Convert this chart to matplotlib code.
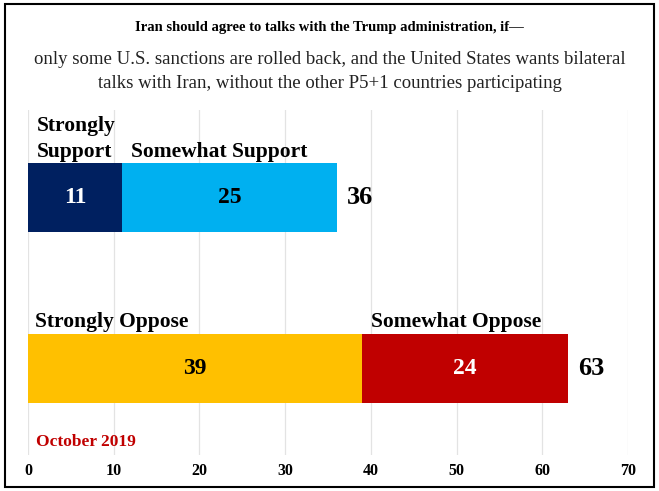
import numpy as np
import matplotlib.pyplot as plt
from matplotlib.patches import Rectangle

plt.rcParams['font.family'] = ['Liberation Serif', 'DejaVu Serif']

# data
rows = ['Oppose', 'Support']
strong_vals = [39, 11]
somewhat_vals = [24, 25]
strong_labels = ['Strongly Oppose', 'Strongly\nSupport']
somewhat_labels = ['Somewhat Oppose', 'Somewhat Support']
strong_colors = ['#FFC000', '#002060']
somewhat_colors = ['#C00000', '#00B0F0']
strong_txt = ['black', 'white']
somewhat_txt = ['white', 'black']
xticks = [0, 10, 20, 30, 40, 50, 60, 70]

W, H = 659, 491
fig = plt.figure(figsize=(W/100, H/100), dpi=100)

# frame round the whole picture
fig.patches.append(Rectangle((5/W, 4/H), 649/W, 483/H, transform=fig.transFigure,
                             fill=False, edgecolor='black', linewidth=1.5))

fig.text(0.5, 1-27/H, 'Iran should agree to talks with the Trump administration, if\u2014',
         ha='center', va='center', fontsize=10.5, fontweight='bold')
fig.text(0.5, 1-60/H, 'only some U.S. sanctions are rolled back, and the United States wants bilateral',
         ha='center', va='center', fontsize=13.5, color='#222222')
fig.text(0.5, 1-84/H, 'talks with Iran, without the other P5+1 countries participating',
         ha='center', va='center', fontsize=13.5, color='#222222')

ax = fig.add_axes([28/W, 1-455/H, 600/W, 345/H])
y = np.arange(len(rows))
h = 0.40

ax.barh(y, strong_vals, height=h, color=strong_colors)
ax.barh(y, somewhat_vals, left=strong_vals, height=h, color=somewhat_colors)

for i in range(len(rows)):
    s, m = strong_vals[i], somewhat_vals[i]
    ax.text(s/2, y[i], str(s), ha='center', va='center', fontsize=17,
            fontweight='bold', color=strong_txt[i])
    ax.text(s + m/2, y[i], str(m), ha='center', va='center', fontsize=17,
            fontweight='bold', color=somewhat_txt[i])
    ax.text(s + m + 1.2, y[i], str(s + m), ha='left', va='center', fontsize=19,
            fontweight='bold')

# category labels above the bars
lab_off = 0.24
first, second = strong_labels[1].split('\n')
ax.text(1.05, 1 + lab_off + 26/171, first, ha='left', va='baseline',
        fontsize=15.5, fontweight='bold')
ax.text(1.05, 1 + lab_off, second, ha='left', va='baseline',
        fontsize=15.5, fontweight='bold')
ax.text(12.0, 1 + lab_off, somewhat_labels[1], ha='left', va='baseline',
        fontsize=15.5, fontweight='bold')
ax.text(0.8, 0 + lab_off, strong_labels[0], ha='left', va='baseline',
        fontsize=15.5, fontweight='bold')
ax.text(40.0, 0 + lab_off, somewhat_labels[0], ha='left', va='baseline',
        fontsize=15.5, fontweight='bold')

ax.text(0.9, -0.43, 'October 2019', ha='left', va='center', fontsize=12.5,
        fontweight='bold', color='#C00000')

ax.set_xlim(0, 70)
ax.set_ylim(-0.506, 1.512)
ax.set_xticks(xticks)
ax.set_xticklabels([str(t) for t in xticks], fontsize=11.5, fontweight='bold')
ax.set_yticks([])
ax.tick_params(axis='x', length=0, pad=6)
ax.grid(axis='x', color='#E3E3E3', linewidth=0.9)
ax.set_axisbelow(True)
for sp in ax.spines.values():
    sp.set_visible(False)

fig.savefig('out.png', dpi=100)
